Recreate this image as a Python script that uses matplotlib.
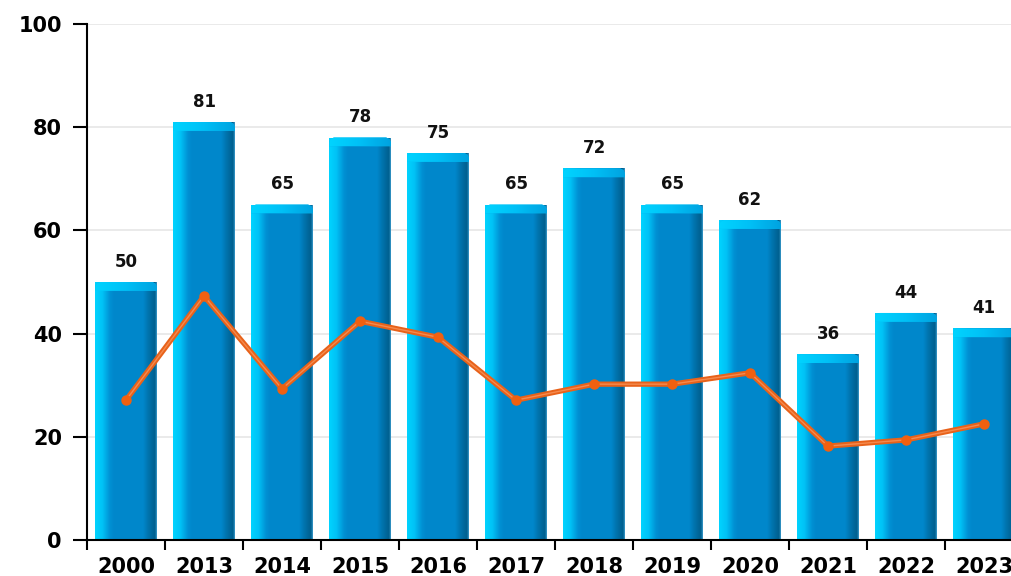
import matplotlib
matplotlib.use("Agg")
import matplotlib.pyplot as plt
import numpy as np
from matplotlib.colors import LinearSegmentedColormap
from matplotlib.patches import Polygon

years = ["2000", "2013", "2014", "2015", "2016", "2017", "2018", "2019", "2020", "2021", "2022", "2023"]
bar_values = [50, 81, 65, 78, 75, 65, 72, 65, 62, 36, 44, 41]
line_values = [27.1, 47.3, 29.3, 42.4, 39.3, 27.1, 30.2, 30.2, 32.4, 18.2, 19.4, 22.5]

W, H = 1011, 576
fig = plt.figure(figsize=(W / 100, H / 100), dpi=100)
ax = fig.add_axes([87 / W, 36 / H, (W - 87) / W, (540 - 24) / H])

x = np.arange(len(years))
bw = 0.79

# gridlines
ax.set_yticks([0, 20, 40, 60, 80, 100])
ax.yaxis.grid(True, color="#e6e6e6", linewidth=1.2)
ax.set_axisbelow(True)

face_cmap = LinearSegmentedColormap.from_list(
    "face",
    [(0.0, "#00d4ff"), (0.12, "#00c2f6"), (0.24, "#0091d4"), (0.3, "#0088cc"),
     (0.78, "#0087cb"), (0.86, "#0074ae"), (0.97, "#005f8e"), (1.0, "#3a9acb")])
cap_cmap = LinearSegmentedColormap.from_list(
    "cap", [(0.0, "#00d4ff"), (0.5, "#00c0f6"), (1.0, "#00a2e0")])
grad = np.linspace(0, 1, 256).reshape(1, -1)

bars = ax.bar(x, bar_values, width=bw, color="none", edgecolor="none", zorder=2)
for b, v in zip(bars, bar_values):
    x0 = b.get_x()
    x1 = x0 + b.get_width()
    im = ax.imshow(grad, cmap=face_cmap, aspect="auto",
                   extent=(x0, x1, 0, v), zorder=2, interpolation="bilinear")
    im.set_clip_path(b)
    # top cap with rounded/beveled corners
    cap_h = 1.7
    r = 0.06
    cap = Polygon([(x0, v - cap_h), (x0, v - 0.9), (x0 + r * 0.3, v - 0.3),
                   (x0 + r, v), (x1 - r, v), (x1 - r * 0.3, v - 0.3),
                   (x1, v - 0.9), (x1, v - cap_h)], closed=True,
                  facecolor="#00bcf4", edgecolor="none", zorder=3)
    ax.add_patch(cap)
    im2 = ax.imshow(grad, cmap=cap_cmap, aspect="auto",
                    extent=(x0, x1, v - cap_h, v), zorder=3, interpolation="bilinear")
    im2.set_clip_path(cap)
    ax.annotate(str(v), (b.get_x() + b.get_width() / 2, v), xytext=(0, 8),
                textcoords="offset points", ha="center", va="bottom",
                fontsize=12, fontweight="bold", color="#111111", zorder=5,
                annotation_clip=False)

# line
ax.plot(x, line_values, color="#e8621a", linewidth=3.8, zorder=6,
        solid_joinstyle="round", solid_capstyle="round")
ax.plot(x, line_values, color="#f58a4e", linewidth=1.0, zorder=7)
ax.plot(x, line_values, linestyle="none", marker="o", markersize=6.5,
        color="#f06010", zorder=8)

# axes styling
for s in ["top", "right"]:
    ax.spines[s].set_visible(False)
ax.spines["left"].set_linewidth(1.5)
ax.spines["bottom"].set_linewidth(1.5)
ax.spines["left"].set_zorder(9)
ax.spines["bottom"].set_zorder(9)

ax.tick_params(axis="y", length=10, width=1.5, labelsize=15, pad=8)
for lab in ax.get_yticklabels():
    lab.set_fontweight("bold")

ax.set_xticks(x)
ax.set_xticklabels(years, fontsize=15, fontweight="bold")
ax.set_xticks(np.arange(-0.5, len(years), 1.0), minor=True)
ax.tick_params(axis="x", which="major", length=0, pad=12)
ax.tick_params(axis="x", which="minor", length=7, width=1.5)

ax.set_xlim(-0.5, -0.5 + (W - 87) / 78.0)
ax.set_ylim(0, 100)

fig.savefig("out.png", dpi=100)
